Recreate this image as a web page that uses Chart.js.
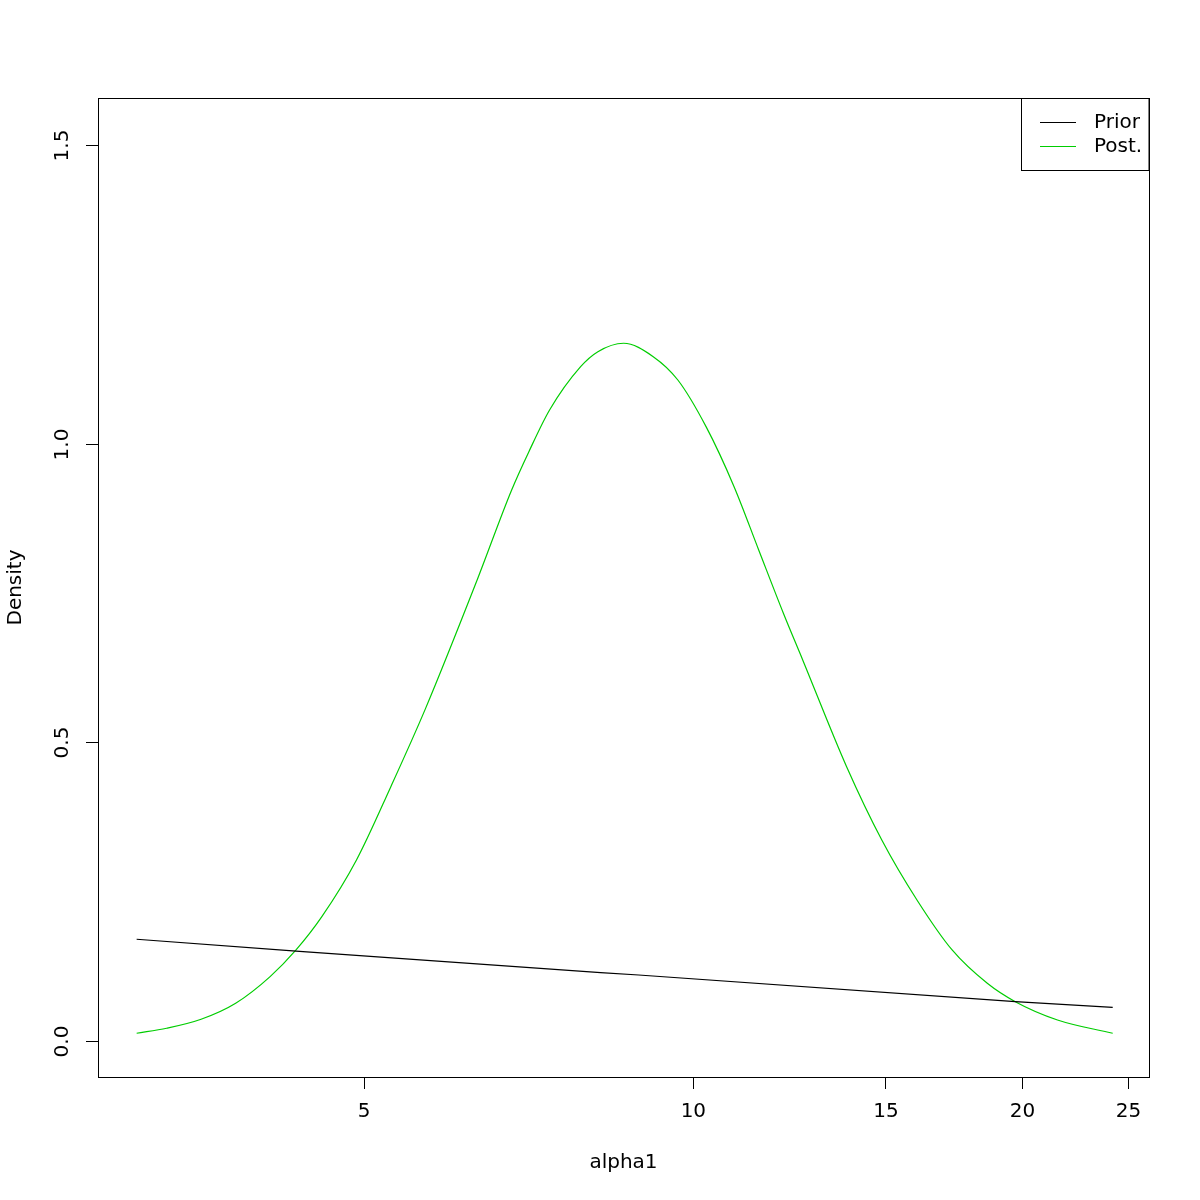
<!DOCTYPE html>
<html>
<head>
<meta charset="utf-8">
<script src="https://cdn.jsdelivr.net/npm/chart.js@4"></script>
<style>
    html, body { margin: 0; padding: 0; background: #fff; }
    #wrap { width: 1200px; height: 1200px; }
</style>
</head>
<body>
<div id="wrap"><canvas id="chartDensity" width="1200" height="1200"></canvas></div>
<script>
const priorX = [3.097, 4.332, 8.226, 8.913, 19.696, 24.18];
const priorY = [0.1703, 0.1505, 0.1143, 0.1105, 0.0658, 0.0564];

const postX = [3.097, 3.299, 3.547, 3.815, 4.102, 4.332, 4.574, 4.920, 5.289, 5.688,
    6.343, 6.821, 7.073, 7.388, 7.887, 8.179, 8.634, 9.190, 9.679, 10.271, 10.895, 11.475,
    12.087, 12.589, 13.808, 14.870, 16.013, 17.243, 18.568, 19.696, 21.525, 24.18];
const postY = [0.0129, 0.0213, 0.0363, 0.0631, 0.1077, 0.1524, 0.2081, 0.3030, 0.4258, 0.5560,
    0.7718, 0.9225, 0.9866, 1.0564, 1.1289, 1.1540, 1.1681, 1.1457, 1.1066, 1.0285, 0.9280, 0.8220,
    0.7161, 0.6379, 0.4592, 0.3365, 0.2361, 0.1524, 0.0966, 0.0658, 0.0352, 0.0129];

const xTicks = [5, 10, 15, 20, 25];
const yTicks = [0, 0.5, 1, 1.5];
const yTickLabels = ['0.0', '0.5', '1.0', '1.5'];
const seriesLabels = ['Prior', 'Post.'];
const seriesColors = ['#000000', '#00CD00'];

const FONT = '"DejaVu Sans", sans-serif';
const FONT_SIZE = 20;

function toPoints(xs, ys) {
    return xs.map((x, i) => ({ x: x, y: ys[i] }));
}

// R style box, rotated y labels and legend
const rStyle = {
    id: 'rStyle',
    afterDraw(chart) {
        const ctx = chart.ctx;
        const area = chart.chartArea;
        const y = chart.scales.y;
        ctx.save();
        ctx.strokeStyle = '#000';
        ctx.lineWidth = 1;
        ctx.strokeRect(Math.round(area.left) + 0.5, Math.round(area.top) + 0.5,
            Math.round(area.right - area.left), Math.round(area.bottom - area.top));

        // y ticks + labels
        ctx.font = FONT_SIZE + 'px ' + FONT;
        ctx.fillStyle = '#000';
        yTicks.forEach((v, i) => {
            const py = Math.round(y.getPixelForValue(v)) + 0.5;
            ctx.beginPath();
            ctx.moveTo(area.left, py);
            ctx.lineTo(area.left - 12, py);
            ctx.stroke();
            ctx.save();
            ctx.translate(63, py);
            ctx.rotate(-Math.PI / 2);
            ctx.textAlign = 'center';
            ctx.textBaseline = 'middle';
            ctx.fillText(yTickLabels[i], 0, 0);
            ctx.restore();
        });

        // legend
        const lx = 1021.5, ly = area.top + 0.5;
        ctx.strokeRect(lx, ly, area.right - lx, 72);
        chart.data.datasets.forEach((ds, i) => {
            const yy = ly + 24 + i * 24;
            ctx.strokeStyle = ds.borderColor;
            ctx.beginPath();
            ctx.moveTo(1040, yy);
            ctx.lineTo(1076, yy);
            ctx.stroke();
            ctx.textAlign = 'left';
            ctx.textBaseline = 'middle';
            ctx.fillText(ds.label, 1094, yy);
        });
        ctx.restore();
    }
};

new Chart(document.getElementById('chartDensity'), {
    type: 'line',
    data: {
        datasets: [{
            label: seriesLabels[0],
            data: toPoints(priorX, priorY),
            borderColor: seriesColors[0],
            borderWidth: 1.2,
            pointRadius: 0,
            tension: 0
        }, {
            label: seriesLabels[1],
            data: toPoints(postX, postY),
            borderColor: seriesColors[1],
            borderWidth: 1.2,
            pointRadius: 0,
            cubicInterpolationMode: 'monotone'
        }]
    },
    options: {
        responsive: false,
        animation: false,
        layout: {
            padding: { top: 98, right: 51, left: 0, bottom: 0 }
        },
        plugins: {
            legend: { display: false },
            tooltip: { enabled: false }
        },
        scales: {
            x: {
                type: 'logarithmic',
                min: 2.855,
                max: 26.1,
                afterFit: scale => { scale.height = 123; },
                afterBuildTicks: scale => { scale.ticks = xTicks.map(v => ({ value: v })); },
                grid: {
                    drawOnChartArea: false,
                    drawTicks: true,
                    tickLength: 12,
                    tickColor: '#000'
                },
                border: { display: false },
                ticks: {
                    autoSkip: false,
                    maxRotation: 0,
                    padding: 11,
                    color: '#000',
                    font: { family: FONT, size: FONT_SIZE },
                    callback: v => String(v)
                },
                title: {
                    display: true,
                    text: 'alpha1',
                    color: '#000',
                    font: { family: FONT, size: FONT_SIZE },
                    padding: { top: 0, bottom: 25 }
                }
            },
            y: {
                min: -0.0603,
                max: 1.5787,
                afterFit: scale => { scale.width = 98; },
                grid: { display: false },
                border: { display: false },
                ticks: { display: false },
                title: {
                    display: true,
                    text: 'Density',
                    color: '#000',
                    font: { family: FONT, size: FONT_SIZE },
                    padding: { top: 4, bottom: 0 }
                }
            }
        }
    },
    plugins: [rStyle]
});
</script>
</body>
</html>
